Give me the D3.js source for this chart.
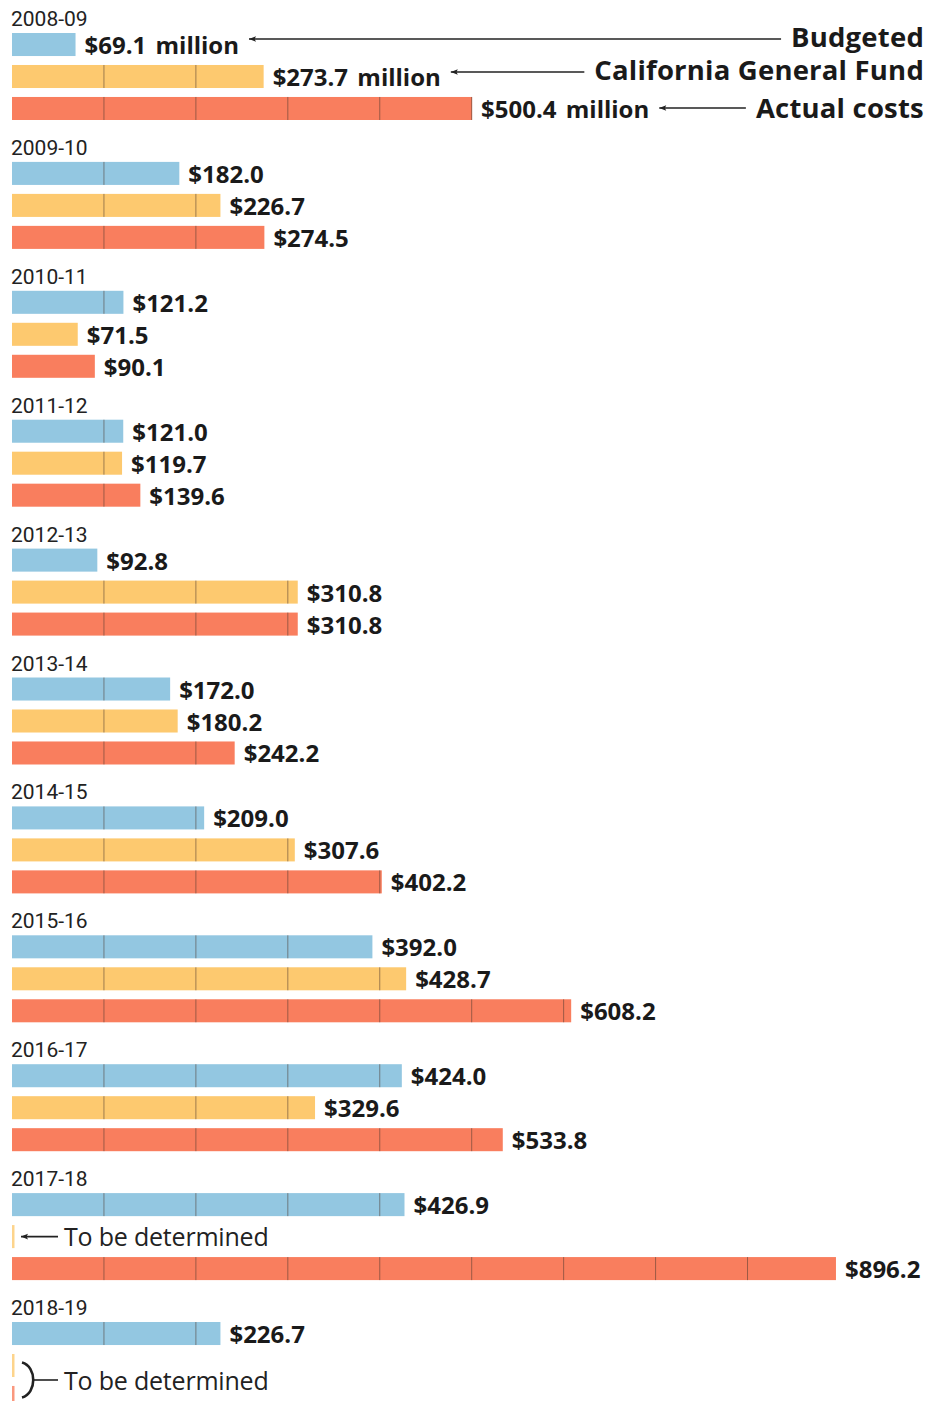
<!DOCTYPE html>
<html>
<head>
<meta charset="utf-8">
<script src="https://cdn.jsdelivr.net/npm/d3@7"></script>
<style>
  html, body { margin: 0; padding: 0; background: #fff; }
  svg { display: block; }
</style>
</head>
<body>
<svg id="chart" width="930" height="1401"></svg>
<script>
// Fiscal years and spending (millions of dollars) by source
const years = ["2008-09", "2009-10", "2010-11", "2011-12", "2012-13", "2013-14",
               "2014-15", "2015-16", "2016-17", "2017-18", "2018-19"];
const budgeted    = [69.1, 182.0, 121.2, 121.0, 92.8, 172.0, 209.0, 392.0, 424.0, 426.9, 226.7];
const generalFund = [273.7, 226.7, 71.5, 119.7, 310.8, 180.2, 307.6, 428.7, 329.6, null, null];
const actualCosts = [500.4, 274.5, 90.1, 139.6, 310.8, 242.2, 402.2, 608.2, 533.8, 896.2, null];
const seriesNames = ["Budgeted", "California General Fund", "Actual costs"];
const seriesColors = ["#93c7e1", "#fdc96f", "#f97e5e"];
const tickStep = 100;

const seriesValues = [budgeted, generalFund, actualCosts];
const svg = d3.select("#chart");
const BOLD = "'Open Sans', sans-serif";
const PLAIN = "'Open Sans', sans-serif";
const YEARFONT = "Roboto, sans-serif";

const x = d3.scaleLinear().domain([0, 1000]).range([12, 931.4]);
const yGroup = d3.scalePoint().domain(years).range([33, 33 + 128.9 * 10]);
const yRow = d3.scaleBand().domain(seriesNames).range([0, 87]).paddingInner(0.28).paddingOuter(0);
const bw = yRow.bandwidth();

const rows = [];
years.forEach((yr, i) => {
  seriesNames.forEach((s, j) => {
    rows.push({ year: yr, i, series: s, j, value: seriesValues[j][i] });
  });
});

const groups = svg.selectAll("g.year").data(years).join("g")
  .attr("class", "year")
  .attr("transform", d => `translate(0,${yGroup(d)})`);

groups.append("text")
  .attr("x", 11).attr("y", -7)
  .attr("font-family", YEARFONT).attr("font-size", 21).attr("fill", "#222")
  .attr("letter-spacing", 0)
  .text(d => d);

const bars = svg.selectAll("g.bar").data(rows.filter(r => r.value != null)).join("g")
  .attr("class", "bar")
  .attr("transform", d => `translate(0,${yGroup(d.year) + yRow(d.series)})`);

bars.append("rect")
  .attr("x", x(0)).attr("y", 0)
  .attr("width", d => x(d.value) - x(0))
  .attr("height", bw)
  .attr("fill", d => seriesColors[d.j]);

// Hundred-million gridlines inside each bar
bars.selectAll("line.tick").data(d => d3.range(tickStep, d.value, tickStep)).join("line")
  .attr("class", "tick")
  .attr("x1", t => x(t)).attr("x2", t => x(t))
  .attr("y1", 0).attr("y2", bw)
  .attr("stroke", "rgba(80,60,50,0.55)").attr("stroke-width", 1);

const fmt = d3.format("$.1f");
const labels = bars.append("text")
  .attr("x", d => x(d.value) + 9)
  .attr("y", bw / 2 + 9.5)
  .attr("font-family", BOLD).attr("font-weight", 700).attr("font-size", 24)
  .attr("fill", "#1a1a1a").attr("letter-spacing", 0)
  .attr("word-spacing", 3)
  .text(d => fmt(d.value) + (d.i === 0 ? " million" : ""));

// Legend: series names on the right with arrows back to the first year's labels
const defs = svg.append("defs");
defs.append("marker").attr("id", "arrow")
  .attr("viewBox", "0 0 10 10").attr("refX", 0).attr("refY", 5)
  .attr("markerWidth", 10).attr("markerHeight", 7).attr("orient", "auto")
  .attr("markerUnits", "userSpaceOnUse")
  .append("path").attr("d", "M0,5 L10,1 L8,5 L10,9 Z").attr("fill", "#222");

const legendArrowDy = [-5.5, -4.5, -0.5];
const legendTextDy = [2.5, 3.5, 9.5];
labels.filter(d => d.i === 0).each(function (d) {
  const labelEnd = x(d.value) + 9 + this.getComputedTextLength();
  const mid = yGroup(d.year) + yRow(d.series) + bw / 2;
  const t = svg.append("text")
    .attr("x", 924).attr("y", mid + legendTextDy[d.j])
    .attr("text-anchor", "end")
    .attr("font-family", BOLD).attr("font-weight", 700).attr("font-size", 27.5)
    .attr("fill", "#1a1a1a").attr("letter-spacing", 0.2)
    .text(d.series);
  const textStart = 924 - t.node().getComputedTextLength();
  svg.append("line")
    .attr("x1", labelEnd + 10).attr("x2", textStart - 10)
    .attr("y1", mid + legendArrowDy[d.j]).attr("y2", mid + legendArrowDy[d.j])
    .attr("stroke", "#222").attr("stroke-width", 1.6)
    .attr("marker-start", "url(#arrow)");
});

// Rows with no figure yet: thin stubs plus a note
const pending = rows.filter(r => r.value == null);
svg.selectAll("rect.stub").data(pending).join("rect")
  .attr("class", "stub")
  .attr("x", x(0)).attr("y", d => yGroup(d.year) + yRow(d.series))
  .attr("width", 2.5).attr("height", bw)
  .attr("fill", d => seriesColors[d.j]).attr("opacity", 0.8);

const noteGroups = d3.groups(pending, d => d.year);
noteGroups.forEach(([yr, items]) => {
  const ys = items.map(d => yGroup(d.year) + yRow(d.series) + bw / 2);
  const cy = d3.mean(ys);
  if (items.length === 1) {
    svg.append("line")
      .attr("x1", 21).attr("x2", 58).attr("y1", cy).attr("y2", cy)
      .attr("stroke", "#222").attr("stroke-width", 1.6)
      .attr("marker-start", "url(#arrow)");
  } else {
    const y0 = ys[0] - 3, y1 = Math.min(ys[1], 1398);
    svg.append("path")
      .attr("d", `M22,${y0} C37,${y0 + 4} 37,${y1 - 4} 22,${y1}`)
      .attr("fill", "none").attr("stroke", "#222").attr("stroke-width", 2.6);
    const mid = (y0 + y1) / 2;
    svg.append("line")
      .attr("x1", 33).attr("x2", 58).attr("y1", mid).attr("y2", mid)
      .attr("stroke", "#222").attr("stroke-width", 1.6);
  }
  svg.append("text")
    .attr("x", 64).attr("y", cy + 9)
    .attr("font-family", PLAIN).attr("font-size", 25).attr("fill", "#222")
    .attr("letter-spacing", -0.2)
    .text("To be determined");
});
</script>
</body>
</html>
